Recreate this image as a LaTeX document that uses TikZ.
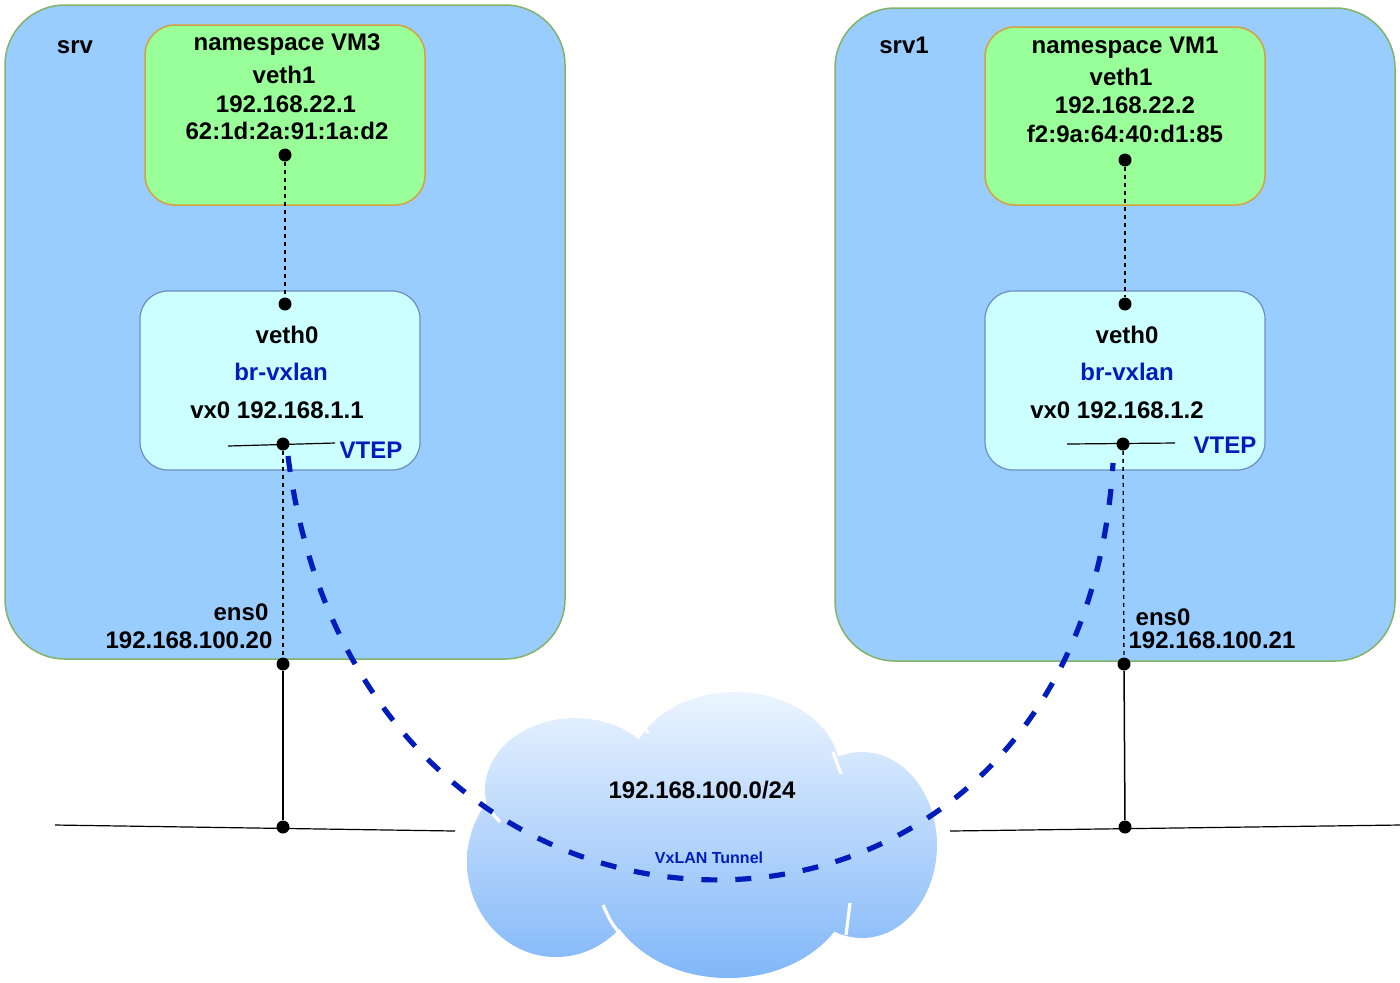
\documentclass[tikz,border=0pt]{standalone}
\usepackage{fontspec}
\setmainfont{Liberation Sans}
\usetikzlibrary{calc}
\definecolor{srvfill}{HTML}{99CCFF}
\definecolor{srvline}{HTML}{82B366}
\definecolor{nsfill}{HTML}{99FF99}
\definecolor{nsline}{HTML}{D6A13A}
\definecolor{brfill}{HTML}{CCFFFF}
\definecolor{brline}{HTML}{6C8EBF}
\definecolor{vxblue}{HTML}{001DBC}
\definecolor{cloudtop}{HTML}{EEF6FF}
\definecolor{cloudbot}{HTML}{7EB5F8}
\tikzset{srvbox/.style={draw=srvline, fill=srvfill, line width=0.75pt, rounded corners=30pt, minimum width=280pt, minimum height=327pt, inner sep=0pt},
  nsbox/.style={draw=nsline, fill=nsfill, line width=0.75pt, rounded corners=15pt, minimum width=140pt, minimum height=90pt, inner sep=0pt},
  brbox/.style={draw=brline, fill=brfill, line width=0.6pt, rounded corners=14pt, minimum width=140pt, minimum height=89.5pt, inner sep=0pt},
  lbl/.style={font=\fontsize{12}{14}\selectfont\bfseries, inner sep=0pt, anchor=base},
  blbl/.style={lbl, text=vxblue},
  dot/.style={circle, fill=black, inner sep=0pt, minimum size=6.5pt},
  link/.style={dash pattern=on 2pt off 2pt, line width=0.7pt},
  wire/.style={line width=0.75pt},
  tunnel/.style={vxblue, line width=2.6pt, dash pattern=on 8pt off 9pt}}

\begin{document}
\begin{tikzpicture}[x=0.5pt, y=-0.5pt]
  \useasboundingbox (0,0) rectangle (1400,982);
  %Servers
  \node[srvbox] (srv) at (285,332) {};
  \node[srvbox, minimum height=326.5pt] (srvB) at (1115,334.5) {};
  \node[nsbox] (ns3) at (285,115) {};
  \node[nsbox, minimum height=89pt] (ns1) at (1125,116) {};
  \node[brbox] (br3) at (280,380.5) {};
  \node[brbox] (br1) at (1125,380.5) {};
  %Cloud
  \begin{scope}
    \clip (575,790) ellipse [x radius=45pt, y radius=36pt]
      (735,772) ellipse [x radius=52.5pt, y radius=40pt]
      (862,845) ellipse [x radius=37.5pt, y radius=46.5pt]
      (728,880) ellipse [x radius=62.5pt, y radius=49pt]
      (556,862) ellipse [x radius=44.5pt, y radius=47.5pt]
      (700,840) ellipse [x radius=85pt, y radius=40pt];
    \shade[top color=cloudtop, bottom color=cloudbot] (455,685) rectangle (945,985);
  \end{scope}
  \draw[white, line width=1.6pt] (637,716) -- (648,733);
  \draw[white, line width=1.6pt] (833,752) -- (841,774);
  \draw[white, line width=1.6pt] (486,806) -- (500,822);
  \draw[white, line width=1.6pt] (603,905) .. controls (612,925) .. (633,948);
  \draw[white, line width=1.6pt] (850,903) -- (846,935);
  %Ports
  \node[dot] (ns3p) at (285,155) {};
  \node[dot] (br3p) at (285,304) {};
  \node[dot] (vx3) at (283,444) {};
  \node[dot] (ens3) at (283,664) {};
  \node[dot] (lan3) at (283,827) {};
  \node[dot] (ns1p) at (1125,160) {};
  \node[dot] (br1p) at (1125,304) {};
  \node[dot] (vx1) at (1123,444) {};
  \node[dot] (ens1) at (1124,664) {};
  \node[dot] (lan1) at (1125,827) {};
  \coordinate (vtep3a) at (228,446);
  \coordinate (vtep3b) at (335,443);
  \coordinate (vtep1a) at (1067,444);
  \coordinate (vtep1b) at (1175,443);
  \coordinate (busLa) at (55,825);
  \coordinate (busLb) at (455,831);
  \coordinate (busRa) at (950,831);
  \coordinate (busRb) at (1400,825);
  \coordinate (tun3) at (288,456);
  \coordinate (tun1) at (1113,463);
  %Links
  \draw[link] (ns3p) -- (br3p);
  \draw[link] (vx3) -- (ens3);
  \draw[link] (ns1p) -- (br1p);
  \draw[link] (vx1) -- (ens1);
  \draw[wire] (ens3) -- (lan3);
  \draw[wire] (ens1) -- (lan1);
  \draw[line width=0.6pt] (vtep3a) -- (vtep3b);
  \draw[line width=0.6pt] (vtep1a) -- (vtep1b);
  \draw[line width=0.6pt] (busLa) -- (busLb);
  \draw[line width=0.6pt] (busRa) -- (busRb);
  \draw[tunnel] (tun3) .. controls (360,1020) and (1080,1020) .. (tun1);
  %Labels
  \node[lbl] (srvt) at (75,53) {srv};
  \node[lbl] (ns3t) at (287,50) {namespace VM3};
  \node[lbl] (ns3a) at (284,83) {veth1};
  \node[lbl] (ns3b) at (286,112) {192.168.22.1};
  \node[lbl] (ns3c) at (287,139) {62:1d:2a:91:1a:d2};
  \node[lbl] (br3a) at (287,343) {veth0};
  \node[blbl] (br3t) at (281,380) {br-vxlan};
  \node[lbl] (br3b) at (277,418) {vx0 192.168.1.1};
  \node[blbl] (vtep3) at (371,458) {VTEP};
  \node[lbl] (ens3a) at (241,620) {ens0};
  \node[lbl] (ens3b) at (189,648) {192.168.100.20};
  \node[lbl] (srv1t) at (904,53) {srv1};
  \node[lbl] (ns1t) at (1125,53) {namespace VM1};
  \node[lbl] (ns1a) at (1121,85) {veth1};
  \node[lbl] (ns1b) at (1125,113) {192.168.22.2};
  \node[lbl] (ns1c) at (1125,142) {f2:9a:64:40:d1:85};
  \node[lbl] (br1a) at (1127,343) {veth0};
  \node[blbl] (br1t) at (1127,380) {br-vxlan};
  \node[lbl] (br1b) at (1117,418) {vx0 192.168.1.2};
  \node[blbl] (vtep1) at (1225,453) {VTEP};
  \node[lbl] (ens1a) at (1163,625) {ens0};
  \node[lbl] (ens1b) at (1212,648) {192.168.100.21};
  \node[lbl] (net) at (702,798) {192.168.100.0/24};
  \node[blbl, font=\fontsize{8}{10}\selectfont\bfseries] (tunt) at (709,863) {VxLAN Tunnel};
\end{tikzpicture}
\end{document}
